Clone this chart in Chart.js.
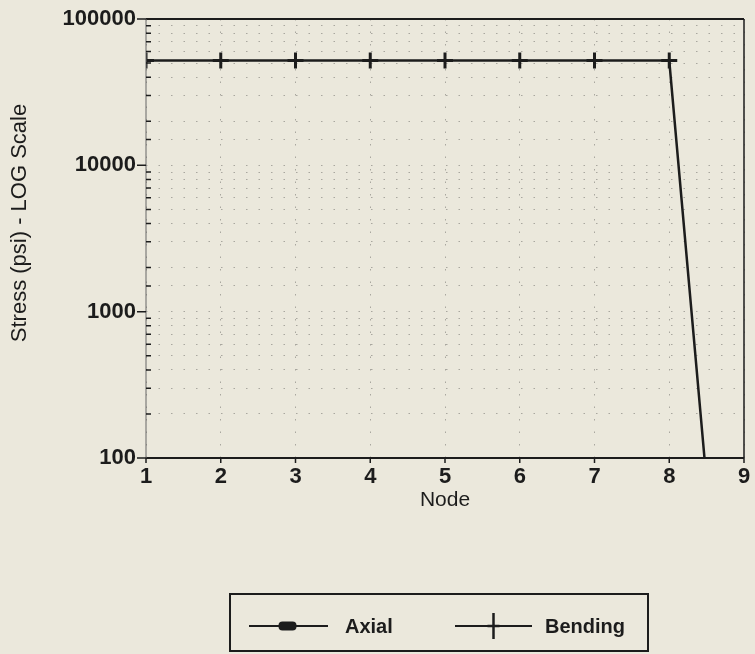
<!DOCTYPE html>
<html>
<head>
<meta charset="utf-8">
<title>Stress by Node</title>
<script src="https://cdn.jsdelivr.net/npm/chart.js@4.4.1/dist/chart.umd.min.js"></script>
<style>
  html, body { margin: 0; padding: 0; background: #ebe8dc; }
  #chart { display: block; }
</style>
</head>
<body>
<canvas id="chart" width="755" height="654"></canvas>
<script>
document.addEventListener('DOMContentLoaded', () => {
    const nodes = [1, 2, 3, 4, 5, 6, 7, 8, 9];
    const bending = [52000, 52000, 52000, 52000, 52000, 52000, 52000, 52000, 0.09];
    const axial = [null, null, null, null, null, null, null, null, null];
    const yLabels = [100, 1000, 10000, 100000];
    const yTitle = 'Stress (psi) - LOG Scale';

    const ink = '#1c1c1c';
    const fontFamily = '"Liberation Sans", Arial, Helvetica, sans-serif';

    const isDecade = (v) => yLabels.includes(Math.round(v));

    // frame, tick marks, y title and the boxed legend under the plot
    const decorations = {
        id: 'decorations',
        afterDraw(chart) {
            const { ctx, chartArea: a, scales } = chart;
            ctx.save();

            ctx.strokeStyle = ink;
            ctx.lineWidth = 2;
            ctx.beginPath();
            ctx.moveTo(a.left, a.top); ctx.lineTo(a.right, a.top);
            ctx.moveTo(a.left, a.bottom); ctx.lineTo(a.right, a.bottom);
            ctx.stroke();
            ctx.lineWidth = 1.5;
            ctx.beginPath();
            ctx.moveTo(a.right, a.top); ctx.lineTo(a.right, a.bottom);
            ctx.stroke();
            ctx.lineWidth = 1;
            ctx.strokeStyle = '#666';
            ctx.beginPath();
            ctx.moveTo(a.left, a.top); ctx.lineTo(a.left, a.bottom);
            ctx.stroke();

            // y ticks: decades point outward, the rest inward
            ctx.strokeStyle = ink;
            ctx.lineWidth = 1.5;
            ctx.beginPath();
            scales.y.ticks.forEach(t => {
                const y = scales.y.getPixelForValue(t.value);
                if (isDecade(t.value)) {
                    ctx.moveTo(a.left - 9, y); ctx.lineTo(a.left, y);
                } else {
                    ctx.moveTo(a.left, y); ctx.lineTo(a.left + 5, y);
                }
            });
            scales.x.ticks.forEach(t => {
                const x = scales.x.getPixelForValue(t.value);
                ctx.moveTo(x, a.bottom); ctx.lineTo(x, a.bottom + 5);
            });
            ctx.stroke();

            // rotated y title, sitting a little above the plot's middle
            ctx.fillStyle = ink;
            ctx.font = '22px ' + fontFamily;
            ctx.textAlign = 'center';
            ctx.textBaseline = 'middle';
            ctx.translate(20, 223);
            ctx.rotate(-Math.PI / 2);
            ctx.fillText(yTitle, 0, 0);
            ctx.setTransform(1, 0, 0, 1, 0, 0);

            // legend
            const box = { left: 230, top: 594, right: 648, bottom: 651 };
            ctx.lineWidth = 2;
            ctx.strokeStyle = ink;
            ctx.strokeRect(box.left, box.top, box.right - box.left, box.bottom - box.top);

            const midY = 626;
            const items = [
                { ds: chart.data.datasets[0], x0: 249, x1: 328, textX: 345 },
                { ds: chart.data.datasets[1], x0: 455, x1: 532, textX: 545 }
            ];
            ctx.font = 'bold 20px ' + fontFamily;
            ctx.textBaseline = 'middle';
            ctx.textAlign = 'left';
            items.forEach(it => {
                const cx = (it.x0 + it.x1) / 2;
                ctx.strokeStyle = ink;
                ctx.lineWidth = 2;
                ctx.beginPath();
                ctx.moveTo(it.x0, midY); ctx.lineTo(it.x1, midY);
                ctx.stroke();
                if (it.ds.pointStyle === 'rectRounded') {
                    ctx.fillStyle = ink;
                    ctx.beginPath();
                    ctx.roundRect(cx - 10, midY - 4.5, 18, 9, 4);
                    ctx.fill();
                } else {
                    ctx.lineWidth = 2.5;
                    ctx.beginPath();
                    ctx.moveTo(cx, midY - 13); ctx.lineTo(cx, midY + 13);
                    ctx.moveTo(cx - 6, midY); ctx.lineTo(cx + 6, midY);
                    ctx.stroke();
                }
                ctx.fillStyle = ink;
                ctx.fillText(it.ds.label, it.textX, midY + 1);
            });

            ctx.restore();
        }
    };

    new Chart(document.getElementById('chart'), {
        type: 'line',
        data: {
            datasets: [
                {
                    label: 'Axial',
                    data: nodes.map((n, i) => ({ x: n, y: axial[i] })),
                    borderColor: ink,
                    backgroundColor: ink,
                    borderWidth: 2,
                    pointStyle: 'rectRounded',
                    pointRadius: 5
                },
                {
                    label: 'Bending',
                    data: nodes.map((n, i) => ({ x: n, y: bending[i] })),
                    borderColor: ink,
                    backgroundColor: ink,
                    borderWidth: 2.5,
                    pointStyle: 'cross',
                    pointRadius: 8,
                    pointBorderWidth: 3,
                    tension: 0
                }
            ]
        },
        options: {
            responsive: false,
            animation: false,
            layout: { padding: { top: 19, right: 7, left: 0, bottom: 136 } },
            plugins: {
                legend: { display: false },
                tooltip: { enabled: false }
            },
            scales: {
                x: {
                    type: 'linear',
                    min: 1,
                    max: 9,
                    afterFit: (scale) => {
                        scale.height = 60;
                        scale.paddingLeft = 0;
                        scale.paddingRight = 0;
                    },
                    ticks: {
                        stepSize: 1,
                        padding: 2,
                        color: ink,
                        font: { family: fontFamily, size: 22, weight: 'bold' }
                    },
                    grid: {
                        color: 'rgba(30,30,30,0.32)',
                        lineWidth: 1,
                        drawTicks: true,
                        tickLength: 4,
                        tickColor: 'rgba(0,0,0,0)'
                    },
                    border: { display: false, dash: [1.5, 11] },
                    title: {
                        display: true,
                        text: 'Node',
                        color: ink,
                        font: { family: fontFamily, size: 21 },
                        padding: { top: 0, bottom: 5 }
                    }
                },
                y: {
                    type: 'logarithmic',
                    min: 100,
                    max: 100000,
                    afterFit: (scale) => {
                        scale.width = 146;
                        scale.paddingTop = 0;
                        scale.paddingBottom = 0;
                    },
                    ticks: {
                        autoSkip: false,
                        padding: 10,
                        color: ink,
                        font: { family: fontFamily, size: 22, weight: 'bold' },
                        callback: (value) => isDecade(value) ? String(Math.round(value)) : ''
                    },
                    grid: { color: 'rgba(30,30,30,0.32)', lineWidth: 1, drawTicks: false },
                    border: { display: false, dash: [1.5, 11] },
                    title: { display: false }
                }
            }
        },
        plugins: [decorations]
    });
});
</script>
</body>
</html>
